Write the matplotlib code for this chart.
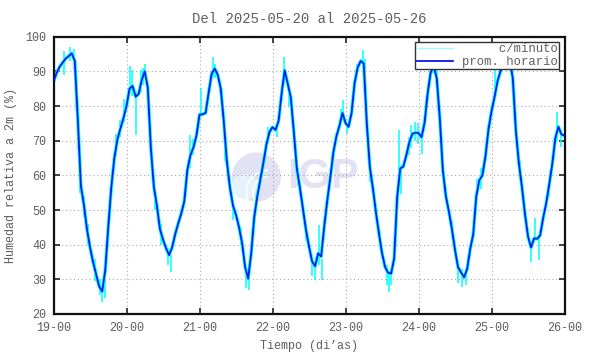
import numpy as np
import matplotlib
matplotlib.use("Agg")
import matplotlib.pyplot as plt
from matplotlib.patches import Ellipse, Arc
from matplotlib.lines import Line2D

# ---- data ----
hum_hourly = [
    87, 89.5, 91.3, 92.5, 93.7, 94.4, 95.2, 93, 76, 57,
    51.5, 44.5, 39.3, 35, 31.5, 28, 26.5, 32.5, 45, 56.5,
    65, 70.3, 73.5, 76.5, 80, 85, 85.8, 82.7, 83.5, 87.5,
    90, 85.3, 68, 56.7, 51.2, 44.5, 41.5, 39, 37, 39.2,
    43, 46.1, 49, 52.5, 61.5, 65.8, 68, 71.5, 77.5, 77.6,
    78, 83.8, 89.3, 90.8, 89, 85, 75.4, 64, 56.5, 51.3,
    48.6, 45, 40.5, 33.5, 30.2, 37.5, 48, 54, 58.8, 63.6,
    68.9, 72.5, 73.9, 73.1, 75.7, 83.6, 90.3, 86.5, 82.6, 72.7,
    62, 56.5, 50.4, 44.3, 39.5, 35.2, 33.8, 37.5, 36.6, 45.2,
    52.7, 59.3, 66.6, 71.2, 74.3, 78, 75.1, 74, 78, 86.7,
    91.1, 93, 92.3, 75, 62.4, 56.3, 49.4, 43.2, 37.6, 33.6,
    31.9, 31.7, 36, 53.8, 62, 62.5, 65.8, 69.6, 72, 72.3,
    72.2, 71, 75.2, 83.6, 89.7, 91.5, 88, 76.5, 61.5, 54,
    49.5, 44.5, 38.5, 33.5, 32, 30.6, 33, 38.8, 43, 54,
    58.6, 60, 65.4, 73.2, 78.5, 82.6, 87.2, 90.2, 91.6, 92.9,
    93.3, 88, 73, 63.5, 56.7, 48.9, 42.4, 39.2, 41.8, 41.7,
    42.7, 47.8, 52, 57.5, 63.4, 70.8, 74, 71.8, 71.5,
]
hours = np.arange(len(hum_hourly))

# per-minute excursions (hour, low, high)
spike_hour = [0.3, 3.5, 5.5, 6.8, 8.7, 10, 11.5, 13.5, 15.2, 16, 16.8,
              20.6, 21.8, 23.2, 25.2, 25.9, 27.1, 28.8, 29.5, 30.2,
              33.5, 35.5, 37.5, 38.5, 44.8, 46, 48.4, 52.3, 53.2, 56.5,
              59, 61.5, 63.2, 64.3, 70.5, 73.5, 75.8, 77.5, 80.5, 83, 85,
              86, 87.4, 88.3, 89.5, 94.5, 95.2, 96.5, 99.7, 101.6, 102.3,
              104, 107.5, 109.5, 110.2, 111, 113.6, 114.4, 116.8, 117.6,
              118.8, 119.8, 121, 124.8, 126, 128.6, 131, 133, 134.2, 135.6,
              139.2, 140.4, 145, 149.5, 150.5, 153.5, 157, 158.4, 159.6,
              163, 165.5, 167]
spike_low = [84.5, 89, 93, 93, 55, 48, 40, 29.5, 25.5, 23.5, 24.5,
             65.5, 71, 75, 85, 83, 71.5, 84, 86, 88,
             50, 40, 34, 32, 62, 66, 77, 88.5, 88, 64,
             47, 40, 27.5, 26.8, 70, 71, 88, 80, 57, 41, 31,
             29.7, 34, 29.7, 47, 75, 76, 72, 89, 91, 89,
             58, 40, 28.5, 26.3, 28.5, 58, 54.7, 66, 68,
             70, 69, 66.3, 89.5, 87, 54, 42, 29, 27.7, 28.5,
             53, 56, 82, 91, 90, 60, 35.1, 42, 35.5,
             54, 70, 68.2]
spike_high = [88, 96, 97, 96.5, 62, 54, 46, 36, 30, 28, 30,
              72, 76, 82, 91.5, 90.5, 84, 90.5, 91, 92,
              56, 46, 39, 37, 71.5, 70.5, 85.2, 94, 92, 69,
              53, 45, 32, 31, 74, 75, 94, 84.5, 62, 46, 36.5,
              35, 45.6, 36, 52, 79, 81.6, 75, 92, 96.3, 93.5,
              64, 44, 34, 32, 33, 73, 63, 71, 74.5,
              75.5, 75, 72, 93.2, 91.5, 58, 47, 34, 33, 32,
              59, 62, 91.5, 94.6, 94, 64, 40, 47.6, 42,
              58, 78.3, 73]

xtick_pos = [0, 24, 48, 72, 96, 120, 144, 168]
xtick_labels = ["19-00", "20-00", "21-00", "22-00", "23-00", "24-00", "25-00", "26-00"]
yticks = [20, 30, 40, 50, 60, 70, 80, 90, 100]

title = "Del 2025-05-20 al 2025-05-26"
xlabel = "Tiempo (di\u2019as)"
ylabel = "Humedad relativa a 2m (%)"

# ---- styling ----
mono = ["Liberation Mono", "DejaVu Sans Mono"]
txt_color = "#5e5e5e"
plt.rcParams["font.family"] = mono

fig = plt.figure(figsize=(5.9, 3.54), dpi=100)
ax = fig.add_axes([53.5 / 590, 1 - 314 / 354, 511 / 590, 277.3 / 354])

# watermark (IGP logo)
ax.add_patch(Ellipse((0.397, 0.494), 0.096, 0.177, transform=ax.transAxes,
                     facecolor="#e2e2f4", edgecolor="none", zorder=0))
ax.add_patch(Ellipse((0.375, 0.46), 0.05, 0.09, transform=ax.transAxes,
                     facecolor="#e6f2fb", edgecolor="none", zorder=0.1))
for w, h in [(0.06, 0.11), (0.085, 0.156)]:
    ax.add_patch(Arc((0.42, 0.44), w, h, theta1=90, theta2=270,
                     transform=ax.transAxes, color="white", lw=1.2, zorder=0.2))
ax.text(0.528, 0.494, "IGP", transform=ax.transAxes, ha="center", va="center",
        fontsize=30, fontweight="bold", family=["Liberation Sans", "DejaVu Sans"],
        color="#e2e2f4", zorder=0)

# data
ax.plot(hours, hum_hourly, color="#00ffff", lw=2.5, zorder=2, solid_joinstyle="round")
ax.vlines(spike_hour, spike_low, spike_high, color="#00ffff", lw=1.1, zorder=2)
ax.plot(hours, hum_hourly, color="#0a14f0", lw=1.25, zorder=3)

ax.set_xlim(0, 168)
ax.set_ylim(20, 100)
ax.set_xticks(xtick_pos)
ax.set_xticklabels(xtick_labels)
ax.set_yticks(yticks)
ax.tick_params(direction="in", length=4.3, width=1.2, top=True, right=True,
               labelsize=8.5, labelcolor=txt_color, color="#222222")
ax.tick_params(axis="x", pad=6)
ax.tick_params(axis="y", pad=5)
ax.grid(True, color="#aaaaaa", linestyle=(0, (1, 2.5)), lw=0.8)
for s in ax.spines.values():
    s.set_linewidth(1.6)
    s.set_color("#111111")

ax.set_title(title, fontsize=10, color=txt_color, pad=10)
ax.set_xlabel(xlabel, fontsize=8.5, color=txt_color, labelpad=4)
ax.set_ylabel(ylabel, fontsize=8.5, color=txt_color, labelpad=6)

handles = [Line2D([], [], color="#9ffcfc", lw=1.0),
           Line2D([], [], color="#0a14f0", lw=1.3)]
leg = ax.legend(handles, ["     c/minuto", "prom. horario"], loc="upper right",
                fontsize=8.8, frameon=True, fancybox=False, framealpha=1,
                edgecolor="#333333", borderaxespad=0.45, handlelength=3.0,
                handletextpad=0.7, labelspacing=0.05, borderpad=0.1)
leg.get_frame().set_linewidth(1.0)
for t in leg.get_texts():
    t.set_color(txt_color)

fig.savefig("out.png", dpi=100)
